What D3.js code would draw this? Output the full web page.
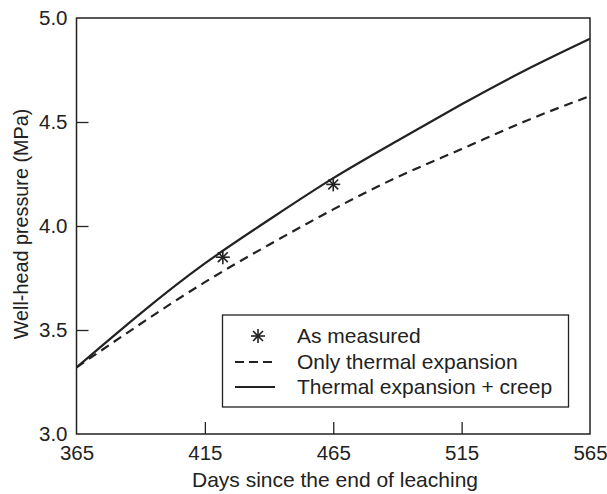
<!DOCTYPE html>
<html><head><meta charset="utf-8">
<script src="https://cdn.jsdelivr.net/npm/d3@7"></script>
<style>body{margin:0;background:#fff}svg{display:block}text{font-family:"Liberation Sans",Arial,sans-serif;fill:#222}</style>
</head><body><svg id="c" width="607" height="494"></svg>
<script>
const days = [365, 390, 415, 440, 465, 490, 515, 540, 565];
const creep = [3.32, 3.58, 3.82, 4.03, 4.23, 4.41, 4.585, 4.75, 4.90];
const thermal = [3.32, 3.53, 3.73, 3.91, 4.08, 4.235, 4.37, 4.505, 4.625];
const measuredDays = [422, 465];
const measuredP = [3.85, 4.20];
const xTicks = [365, 415, 465, 515, 565];
const yTicks = [3.0, 3.5, 4.0, 4.5, 5.0];
const legendLabels = ["As measured", "Only thermal expansion", "Thermal expansion + creep"];

const svg = d3.select("#c");
const L = 76.5, R = 590, T = 18, B = 434;
const x = d3.scaleLinear().domain([365, 565]).range([L, R]);
const y = d3.scaleLinear().domain([3, 5]).range([B, T]);
const ink = "#222";

// axes
const xa = svg.append("g").attr("transform", `translate(0,${B})`)
  .call(d3.axisBottom(x).tickValues(xTicks).tickFormat(d3.format("d")).tickSizeInner(-12).tickSizeOuter(0).tickPadding(11));
const ya = svg.append("g").attr("transform", `translate(${L},0)`)
  .call(d3.axisLeft(y).tickValues(yTicks).tickFormat(d3.format(".1f")).tickSizeInner(-12).tickSizeOuter(0).tickPadding(9));
[xa, ya].forEach(g => {
  g.select(".domain").remove();
  g.selectAll("line").attr("stroke", ink).attr("stroke-width", 1.3);
  g.selectAll("text").attr("font-size", 20.5).attr("fill", ink).style("font-family", '"Liberation Sans",Arial,sans-serif');
});
xa.selectAll(".tick").filter(d => d === 365 || d === 565).select("line").remove();
ya.selectAll(".tick").filter(d => d === 3 || d === 5).select("line").remove();

svg.append("rect").attr("x", L).attr("y", T).attr("width", R - L).attr("height", B - T)
  .attr("fill", "none").attr("stroke", ink).attr("stroke-width", 1.5);

const line = (vals) => d3.line().x((d, i) => x(days[i])).y(d => y(d)).curve(d3.curveNatural)(vals);
svg.append("path").attr("d", line(thermal)).attr("fill", "none").attr("stroke", ink).attr("stroke-width", 2.2).attr("stroke-dasharray", "9,6");
svg.append("path").attr("d", line(creep)).attr("fill", "none").attr("stroke", ink).attr("stroke-width", 2.2);

function star(g, cx, cy, r) {
  for (let k = 0; k < 4; k++) {
    const a = k * Math.PI / 4;
    g.append("line").attr("x1", cx - r * Math.cos(a)).attr("y1", cy - r * Math.sin(a))
      .attr("x2", cx + r * Math.cos(a)).attr("y2", cy + r * Math.sin(a))
      .attr("stroke", ink).attr("stroke-width", 1.6);
  }
}
measuredDays.forEach((d, i) => star(svg, x(d), y(measuredP[i]), 7));

// legend
const lg = svg.append("g");
lg.append("rect").attr("x", 222.5).attr("y", 315).attr("width", 346).attr("height", 92)
  .attr("fill", "#fff").attr("stroke", ink).attr("stroke-width", 1.3);
const rows = [336, 362, 387];
star(lg, 258, rows[0], 7);
lg.append("line").attr("x1", 235).attr("x2", 275).attr("y1", rows[1]).attr("y2", rows[1]).attr("stroke", ink).attr("stroke-width", 2).attr("stroke-dasharray", "9,5");
lg.append("line").attr("x1", 235).attr("x2", 275).attr("y1", rows[2]).attr("y2", rows[2]).attr("stroke", ink).attr("stroke-width", 2);
legendLabels.forEach((t, i) => lg.append("text").attr("x", 297).attr("y", rows[i]).attr("dy", "0.35em").attr("font-size", 21).text(t));

svg.append("text").attr("x", 335).attr("y", 486.5).attr("text-anchor", "middle").attr("font-size", 21).text("Days since the end of leaching");
svg.append("text").attr("transform", `translate(28,${224}) rotate(-90)`).attr("text-anchor", "middle").attr("font-size", 19.8).text("Well-head pressure (MPa)");
</script></body></html>
